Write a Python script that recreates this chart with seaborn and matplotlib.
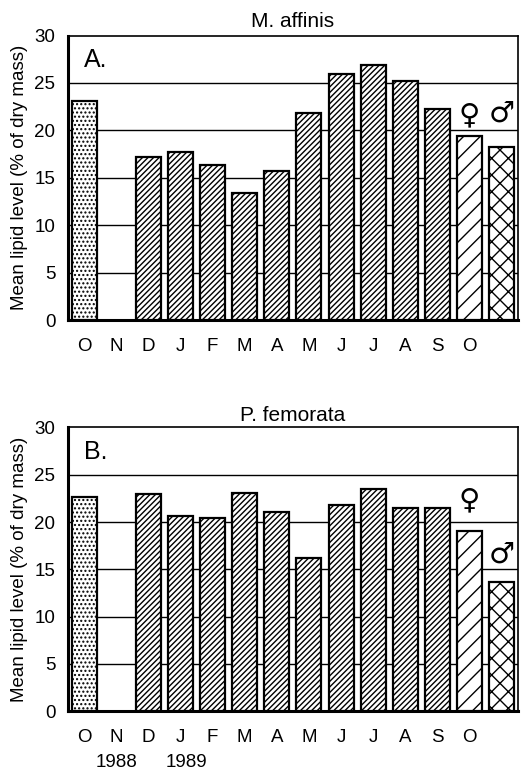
import numpy as np
import pandas as pd
import matplotlib
matplotlib.use("Agg")
import matplotlib.pyplot as plt
import seaborn as sns

sns.set_style("white")
plt.rcParams['font.family'] = ['Liberation Sans', 'DejaVu Sans']
plt.rcParams['hatch.linewidth'] = 1.0
plt.rcParams['text.color'] = 'black'
plt.rcParams['axes.labelcolor'] = 'black'
plt.rcParams['xtick.color'] = 'black'
plt.rcParams['ytick.color'] = 'black'

month_labels = ["O", "N", "D", "J", "F", "M", "A", "M", "J", "J", "A", "S", "O", ""]
affinis = [23.1, np.nan, 17.2, 17.7, 16.3, 13.4, 15.7, 21.8, 25.9, 26.9, 25.2, 22.3, 19.4, 18.2]
femorata = [22.7, np.nan, 23.0, 20.6, 20.4, 23.1, 21.1, 16.2, 21.8, 23.5, 21.5, 21.5, 19.0, 13.7]
years = ["1988", "1989"]
year_pos = [1, 3.2]

hatches = ['....'] + ['//////'] * 11 + ['//', 'xx']

fig = plt.figure(figsize=(5.23, 7.73), dpi=100)
ax1 = fig.add_axes([0.130, 0.586, 0.860, 0.368])
ax2 = fig.add_axes([0.130, 0.080, 0.860, 0.367])

def draw(ax, vals, title, letter, sym_y, title_pad):
    cats = [str(i) for i in range(len(vals))]
    df = pd.DataFrame({"cat": cats, "val": vals})
    sns.barplot(data=df, x="cat", y="val", order=cats, ax=ax, width=0.78,
                color="white", edgecolor="black", linewidth=1.6, errorbar=None)
    for p in ax.patches:
        idx = int(round(p.get_x() + p.get_width() / 2))
        p.set_hatch(hatches[idx])
        p.set_facecolor("white")
        p.set_edgecolor("black")
        p.set_zorder(3)
    ax.set_xlim(-0.5, 13.5)
    ax.set_ylim(0, 30)
    ax.set_yticks([0, 5, 10, 15, 20, 25, 30])
    ax.set_xticks(range(14))
    ax.set_xticklabels(month_labels)
    ax.tick_params(axis='y', length=0, labelsize=13.5, pad=9)
    ax.tick_params(axis='x', length=0, labelsize=13.5, pad=13)
    ax.set_axisbelow(True)
    for y in [5, 10, 15, 20, 25]:
        ax.axhline(y, color="black", lw=1.0, zorder=1)
    ax.set_xlabel("")
    ax.set_ylabel("Mean lipid level (% of dry mass)", fontsize=13.5, labelpad=5)
    ax.set_title(title, fontsize=15, pad=title_pad)
    for s in ["top", "right"]:
        ax.spines[s].set_linewidth(1.2)
        ax.spines[s].set_color("black")
    for s in ["left", "bottom"]:
        ax.spines[s].set_linewidth(2.2)
        ax.spines[s].set_color("black")
    ax.text(0.035, 0.955, letter, transform=ax.transAxes, fontsize=18, va="top", ha="left")
    ax.text(12, sym_y[0], "\u2640", ha="center", va="center", fontsize=21, family=['DejaVu Sans'])
    ax.text(13, sym_y[1], "\u2642", ha="center", va="center", fontsize=21, family=['DejaVu Sans'])

draw(ax1, affinis, "M. affinis", "A.", (21.6, 21.8), 6)
draw(ax2, femorata, "P. femorata", "B.", (22.3, 16.6), 5)

for yr, pos in zip(years, year_pos):
    ax2.annotate(yr, xy=(pos, 0), xycoords=ax2.get_xaxis_transform(),
                 xytext=(0, -37), textcoords="offset points",
                 ha="center", va="center", fontsize=13.5)

fig.savefig("out.png", dpi=100)
